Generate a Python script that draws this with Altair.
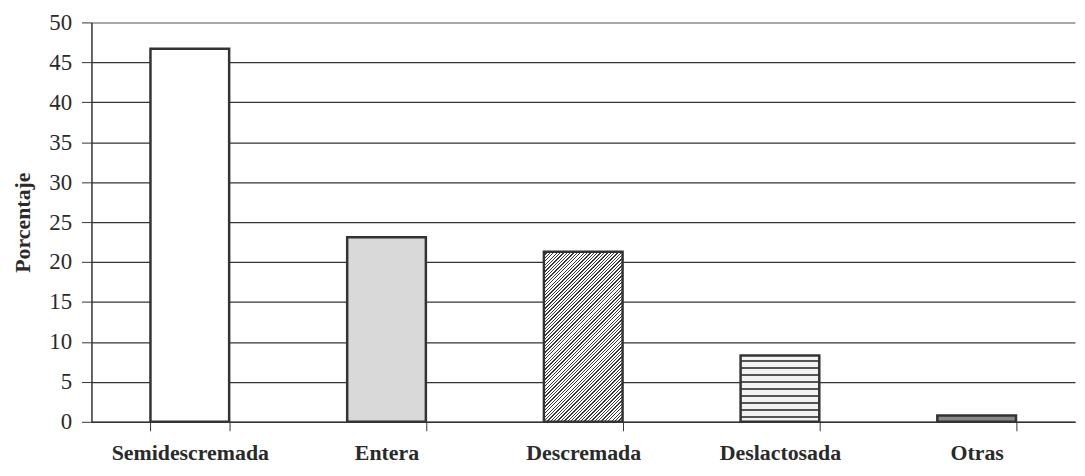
import altair as alt
import pandas as pd

# ---- data ----
categorias = ["Semidescremada", "Entera", "Descremada", "Deslactosada", "Otras"]
porcentajes = [46.7, 23.1, 21.3, 8.3, 0.8]
ticks_y = [0, 5, 10, 15, 20, 25, 30, 35, 40, 45, 50]

# ---- layout / style ----
W, H = 990, 402
Y_MAX = 50
BAR_W = W / 5 * 0.4
FONT = "Liberation Serif"
INK = "#333333"


def diag_hatch(h, w, period=3.4, dark=1.3, color_dark="#3a3a3a", color_light="#ffffff"):
    """45-degree '/' hatch as hard-stop linear gradient (objectBoundingBox units)."""
    a = (1 / h + 1 / w) / (1 / h ** 2 + 1 / w ** 2)
    total = w + h
    stops = []
    pos = 0.0
    while pos < total:
        s0 = pos / total
        s1 = min((pos + dark) / total, 1.0)
        s2 = min((pos + period) / total, 1.0)
        stops += [
            {"offset": s0, "color": color_dark},
            {"offset": s1, "color": color_dark},
            {"offset": s1, "color": color_light},
            {"offset": s2, "color": color_light},
        ]
        pos += period
    return {"gradient": "linear", "x1": 0, "y1": 0, "x2": a / h, "y2": a / w, "stops": stops}


def horiz_stripes(h, period=7.0, dark=2.4, color_dark="#555555", color_light="#f2f2f2"):
    stops = []
    pos = 0.0
    while pos < h:
        s0 = pos / h
        s1 = min((pos + period - dark) / h, 1.0)
        s2 = min((pos + period) / h, 1.0)
        stops += [
            {"offset": s0, "color": color_light},
            {"offset": s1, "color": color_light},
            {"offset": s1, "color": color_dark},
            {"offset": s2, "color": color_dark},
        ]
        pos += period
    return {"gradient": "linear", "x1": 0, "y1": 0, "x2": 0, "y2": 1, "stops": stops}


def px(v):
    return v * H / Y_MAX


fills = [
    "#ffffff",
    "#d9d9d9",
    diag_hatch(px(porcentajes[2]), BAR_W),
    horiz_stripes(px(porcentajes[3])),
    "#888888",
]

df = pd.DataFrame({"categoria": categorias, "porcentaje": porcentajes})

x_enc = alt.X(
    "categoria:N",
    sort=categorias,
    scale=alt.Scale(paddingInner=0.6, paddingOuter=0.3),
    axis=alt.Axis(
        title=None,
        labelAngle=0,
        labelFont=FONT,
        labelFontSize=22,
        labelFontWeight="bold",
        labelColor="#2a2a2a",
        labelPadding=12,
        tickBand="extent",
        tickSize=9,
        tickColor=INK,
        domainColor=INK,
        domainWidth=1.5,
        grid=False,
    ),
)

y_enc = alt.Y(
    "porcentaje:Q",
    scale=alt.Scale(domain=[0, Y_MAX], nice=False),
    axis=alt.Axis(
        values=ticks_y,
        title="Porcentaje",
        titleFont=FONT,
        titleFontSize=22,
        titleFontWeight="bold",
        titleColor="#2a2a2a",
        titleX=-69,
        titleY=H / 2,
        titleAlign="center",
        titleBaseline="middle",
        titleAngle=-90,
        labelFont=FONT,
        labelFontSize=23,
        labelColor="#2a2a2a",
        labelPadding=10,
        tickSize=10,
        tickColor=INK,
        domainColor=INK,
        domainWidth=1.5,
        grid=True,
        gridColor={"condition": {"test": "datum.value === 50", "value": "#a8a8a8"}, "value": INK},
        gridWidth={"condition": {"test": "datum.value === 50", "value": 2}, "value": 1.2},
    ),
)

base = alt.Chart(df).encode(x=x_enc, y=y_enc)

layers = []
for cat, fill in zip(categorias, fills):
    layers.append(
        base.transform_filter(alt.datum.categoria == cat).mark_bar(
            fill=fill, stroke=INK, strokeWidth=2.5
        )
    )

chart = (
    alt.layer(*layers)
    .properties(
        width=W,
        height=H,
        padding={"left": 84, "top": 13, "right": 2, "bottom": 45},
        autosize=alt.AutoSizeParams(type="none"),
        background="white",
    )
    .configure_view(stroke=None)
)

chart.save("out.html", embed_options={"renderer": "svg", "actions": False})
